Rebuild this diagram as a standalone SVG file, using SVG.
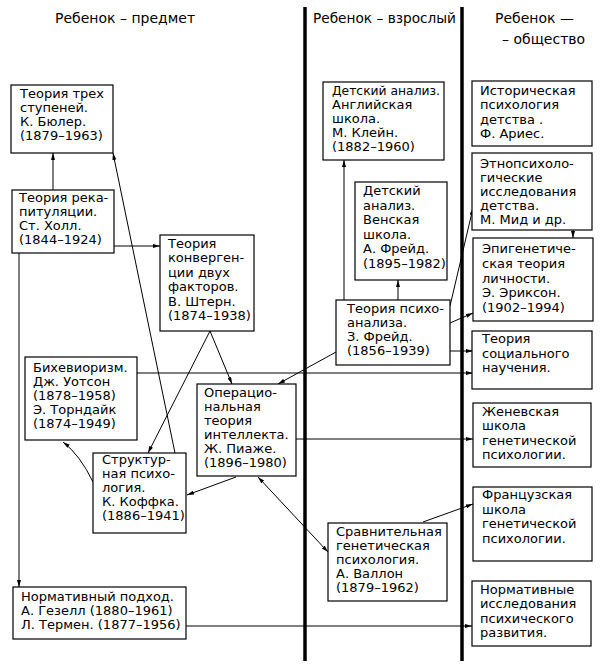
<svg xmlns="http://www.w3.org/2000/svg" width="600" height="672" viewBox="0 0 600 672">
<style>
.box{fill:#fff;stroke:#000;stroke-width:1.2}
.t{font-family:"DejaVu Sans","Liberation Sans",sans-serif;font-size:13px;fill:#000}
.h{font-family:"DejaVu Sans","Liberation Sans",sans-serif;font-size:14px;fill:#000}
.c{fill:none;stroke:#000;stroke-width:1}
.div{stroke:#000;stroke-width:3.5}
</style>
<defs>
<marker id="a" viewBox="0 0 7 4" refX="7" refY="2" markerWidth="7" markerHeight="4" markerUnits="userSpaceOnUse" orient="auto-start-reverse">
<path d="M0,0 L7,2 L0,4 z" fill="#000"/>
</marker>
</defs>
<rect width="600" height="672" fill="#fff"/>
<g id="headers">
<text class="h" x="55" y="23">Ребенок – предмет</text>
<text class="h" x="313" y="23" textLength="143" lengthAdjust="spacingAndGlyphs">Ребенок – взрослый</text>
<text class="h" x="495" y="23">Ребенок —</text>
<text class="h" x="502" y="44">– общество</text>
</g>
<g id="dividers">
<line class="div" x1="305" y1="7" x2="305" y2="661"/>
<line class="div" x1="462" y1="7" x2="462" y2="661"/>
</g>
<g id="connectors">
<path class="c" d="M53,190 L53,153" marker-end="url(#a)"/>
<path class="c" d="M175,453 L113,153" marker-end="url(#a)"/>
<path class="c" d="M114,246 L160,246" marker-end="url(#a)"/>
<path class="c" d="M19,253 L19,587" marker-end="url(#a)"/>
<path class="c" d="M210,331 L148,453" marker-end="url(#a)"/>
<path class="c" d="M210,331 L232,384" marker-end="url(#a)"/>
<path class="c" d="M137,373 L473,373" marker-end="url(#a)"/>
<path class="c" d="M93,482 Q80,455 63,442" marker-end="url(#a)"/>
<path class="c" d="M336,352 L278,384" marker-end="url(#a)"/>
<path class="c" d="M296,439 L473,439" marker-end="url(#a)"/>
<path class="c" d="M236,477 L187,495" marker-end="url(#a)"/>
<path class="c" d="M258,477 L328,552" marker-start="url(#a)" marker-end="url(#a)"/>
<path class="c" d="M423,522 L473,504" marker-end="url(#a)"/>
<path class="c" d="M186,626 L472,626" marker-end="url(#a)"/>
<path class="c" d="M344,300 L344,160" marker-end="url(#a)"/>
<path class="c" d="M398,300 L398,280" marker-end="url(#a)"/>
<path class="c" d="M450,306 L473,208" marker-end="url(#a)"/>
<path class="c" d="M450,323 L473,313" marker-end="url(#a)"/>
<path class="c" d="M450,351 L473,351" marker-end="url(#a)"/>
<path class="c" d="M573,230 L573,238" marker-end="url(#a)"/>
</g>
<g id="buhler">
<rect class="box" x="11" y="85" width="102" height="68"/>
<text class="t"><tspan x="20" y="98">Теория трех</tspan><tspan x="20" y="112">ступеней.</tspan><tspan x="20" y="126">К. Бюлер.</tspan><tspan x="20" y="140">(1879–1963)</tspan></text>
</g>
<g id="hall">
<rect class="box" x="12" y="190" width="102" height="63"/>
<text class="t"><tspan x="19" y="202">Теория река-</tspan><tspan x="19" y="216">питуляции.</tspan><tspan x="19" y="230">Ст. Холл.</tspan><tspan x="19" y="244">(1844–1924)</tspan></text>
</g>
<g id="stern">
<rect class="box" x="160" y="235" width="94" height="96"/>
<text class="t"><tspan x="168" y="248">Теория</tspan><tspan x="168" y="262.4">конверген-</tspan><tspan x="168" y="276.8">ции двух</tspan><tspan x="168" y="291.2">факторов.</tspan><tspan x="168" y="305.6">В. Штерн.</tspan><tspan x="168" y="320">(1874–1938)</tspan></text>
</g>
<g id="behaviorism">
<rect class="box" x="25" y="357" width="112" height="83"/>
<text class="t"><tspan x="33" y="372">Бихевиоризм.</tspan><tspan x="33" y="386">Дж. Уотсон</tspan><tspan x="33" y="400">(1878–1958)</tspan><tspan x="33" y="414">Э. Торндайк</tspan><tspan x="33" y="428">(1874–1949)</tspan></text>
</g>
<g id="piaget">
<rect class="box" x="197" y="384" width="99" height="92"/>
<text class="t"><tspan x="204" y="397">Операцио-</tspan><tspan x="204" y="411">нальная</tspan><tspan x="204" y="425">теория</tspan><tspan x="204" y="439">интеллекта.</tspan><tspan x="204" y="453">Ж. Пиаже.</tspan><tspan x="204" y="467">(1896–1980)</tspan></text>
</g>
<g id="koffka">
<rect class="box" x="93" y="453" width="93" height="80"/>
<text class="t"><tspan x="102" y="464">Структур-</tspan><tspan x="102" y="478">ная психо-</tspan><tspan x="102" y="492">логия.</tspan><tspan x="102" y="506">К. Коффка.</tspan><tspan x="102" y="520">(1886–1941)</tspan></text>
</g>
<g id="gesell">
<rect class="box" x="13" y="587" width="173" height="52"/>
<text class="t"><tspan x="21" y="601">Нормативный подход.</tspan><tspan x="21" y="615">А. Гезелл (1880–1961)</tspan><tspan x="21" y="629">Л. Термен. (1877–1956)</tspan></text>
</g>
<g id="klein">
<rect class="box" x="323" y="82" width="121" height="78"/>
<text class="t"><tspan x="332" y="95" textLength="108" lengthAdjust="spacingAndGlyphs">Детский анализ.</tspan><tspan x="332" y="109">Английская</tspan><tspan x="332" y="123">школа.</tspan><tspan x="332" y="137">М. Клейн.</tspan><tspan x="332" y="151">(1882–1960)</tspan></text>
</g>
<g id="annafreud">
<rect class="box" x="355" y="182" width="92" height="98"/>
<text class="t"><tspan x="363" y="195">Детский</tspan><tspan x="363" y="209.6">анализ.</tspan><tspan x="363" y="224.2">Венская</tspan><tspan x="363" y="238.8">школа.</tspan><tspan x="363" y="253.4">А. Фрейд.</tspan><tspan x="363" y="268">(1895–1982)</tspan></text>
</g>
<g id="psychoanalysis">
<rect class="box" x="336" y="300" width="114" height="65"/>
<text class="t"><tspan x="347" y="313">Теория психо-</tspan><tspan x="347" y="327">анализа.</tspan><tspan x="347" y="341">З. Фрейд.</tspan><tspan x="347" y="355">(1856–1939)</tspan></text>
</g>
<g id="wallon">
<rect class="box" x="328" y="523" width="119" height="78"/>
<text class="t"><tspan x="336" y="536">Сравнительная</tspan><tspan x="336" y="550">генетическая</tspan><tspan x="336" y="564">психология.</tspan><tspan x="336" y="578">А. Валлон</tspan><tspan x="336" y="592">(1879–1962)</tspan></text>
</g>
<g id="aries">
<rect class="box" x="472" y="81" width="120" height="65"/>
<text class="t"><tspan x="480" y="95">Историческая</tspan><tspan x="480" y="109">психология</tspan><tspan x="480" y="123.5">детства .</tspan><tspan x="480" y="138">Ф. Ариес.</tspan></text>
</g>
<g id="ethno">
<rect class="box" x="472" y="153" width="120" height="77"/>
<text class="t"><tspan x="480" y="168">Этнопсихоло-</tspan><tspan x="480" y="182">гические</tspan><tspan x="480" y="196">исследования</tspan><tspan x="480" y="210">детства.</tspan><tspan x="480" y="224">М. Мид и др.</tspan></text>
</g>
<g id="erikson">
<rect class="box" x="473" y="238" width="120" height="83"/>
<text class="t"><tspan x="482" y="253">Эпигенетиче-</tspan><tspan x="482" y="267.7">ская теория</tspan><tspan x="482" y="282.5">личности.</tspan><tspan x="482" y="297.2">Э. Эриксон.</tspan><tspan x="482" y="312">(1902–1994)</tspan></text>
</g>
<g id="social">
<rect class="box" x="472" y="331" width="120" height="58"/>
<text class="t"><tspan x="482" y="343">Теория</tspan><tspan x="482" y="357.5">социального</tspan><tspan x="482" y="372">научения.</tspan></text>
</g>
<g id="geneva">
<rect class="box" x="473" y="403" width="118" height="64"/>
<text class="t"><tspan x="482" y="416">Женевская</tspan><tspan x="482" y="430">школа</tspan><tspan x="482" y="445">генетической</tspan><tspan x="482" y="459">психологии.</tspan></text>
</g>
<g id="french">
<rect class="box" x="473" y="487" width="119" height="74"/>
<text class="t"><tspan x="482" y="499">Французская</tspan><tspan x="482" y="514">школа</tspan><tspan x="482" y="528">генетической</tspan><tspan x="482" y="543">психологии.</tspan></text>
</g>
<g id="normative">
<rect class="box" x="472" y="581" width="119" height="65"/>
<text class="t"><tspan x="480" y="594">Нормативные</tspan><tspan x="480" y="608">исследования</tspan><tspan x="480" y="623">психического</tspan><tspan x="480" y="637">развития.</tspan></text>
</g>
</svg>
